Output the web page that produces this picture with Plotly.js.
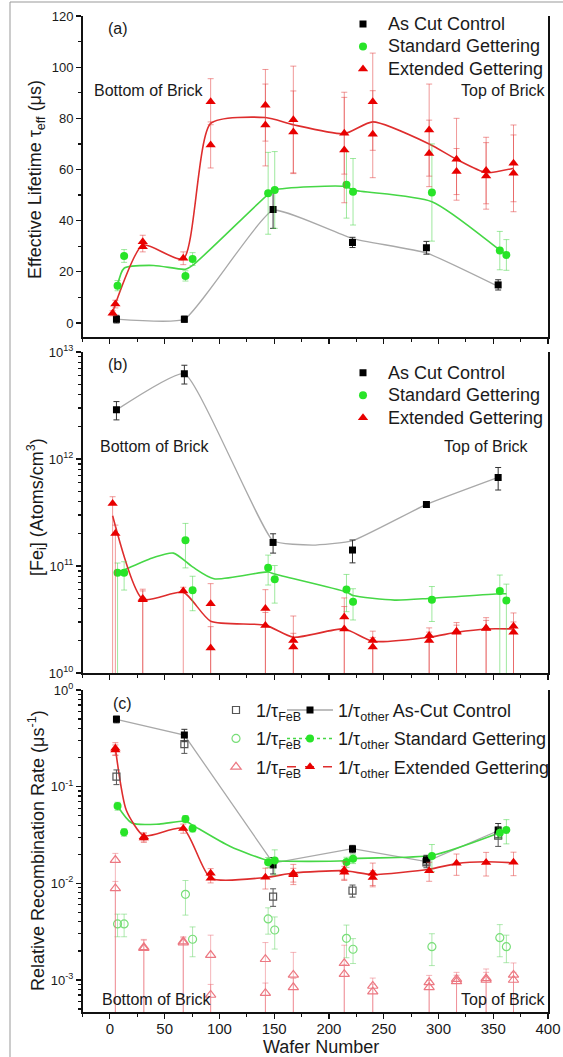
<!DOCTYPE html>
<html><head><meta charset="utf-8">
<script src="https://cdn.plot.ly/plotly-3.0.1.min.js"></script>
<style>html,body{margin:0;padding:0;background:#fff;} #chart{width:563px;height:1057px;}</style>
</head><body><div id="chart"></div>
<script>
// ---------- tick labels ----------
const waferTicks = [0, 50, 100, 150, 200, 250, 300, 350, 400];
const feTickVals = [1e10, 1e11, 1e12, 1e13];
const feTickText = ['10<sup>10</sup>', '10<sup>11</sup>', '10<sup>12</sup>', '10<sup>13</sup>'];
const rateTickVals = [1e-3, 1e-2, 1e-1, 1];
const rateTickText = ['10<sup>-3</sup>', '10<sup>-2</sup>', '10<sup>-1</sup>', '10<sup>0</sup>'];

// ---------- panel (a): effective lifetime (us) ----------
const asCutX = [6, 68, 149, 221.5, 289, 354.5];
const asCutTau = [1.5, 1.5, 44.4, 31.5, 29.4, 14.9];
const asCutTauErr = [1.5, 1.2, 7.4, 2.0, 2.5, 2.0];
const asCutTauFit = [1.5, 1.5, 44.0, 33.0, 27.4, 14.3];

const stdX = [7, 13, 69, 75.5, 144.5, 150.5, 216, 222, 294, 356, 362];
const stdTau = [14.6, 26.2, 18.4, 25.0, 50.7, 52.0, 54.0, 51.3, 51.0, 28.3, 26.6];
const stdTauErr = [2.0, 2.5, 2.0, 2.5, 16, 15, 13, 13, 19, 7.5, 6];
const stdTauFitX = [7, 13, 40, 69, 75.5, 144.5, 150.5, 216, 222, 294, 356, 362];
const stdTauFit = [14.6, 21.4, 22.5, 21.0, 22.5, 50.3, 52.0, 53.3, 52.0, 47.4, 28.5, 26.8];

const extX = [2.5, 5, 30, 30, 67, 92, 92, 142, 142, 167.5, 167.5, 214, 214, 240, 240, 291.5, 291.5, 316.5, 316.5, 343.5, 343.5, 368.5, 368.5];
const extTau = [3.8, 7.4, 31.8, 29.8, 25.3, 86.5, 69.6, 85.1, 77.4, 79.4, 74.7, 74.2, 67.6, 86.5, 73.8, 75.4, 66.3, 64.0, 59.2, 59.6, 57.5, 62.4, 58.5];
const extTauErr = [1.0, 1.5, 2.5, 2.0, 2.5, 9, 9, 14, 16, 21, 16, 16, 20.6, 19, 17, 18, 13, 16, 9, 13, 13, 15, 15];
const extFitX = [2.5, 5, 30, 67, 92, 142, 167.5, 214, 240, 291.5, 316.5, 343.5, 368.5];
const extTauFit = [3.8, 7.4, 30.5, 25.0, 78.0, 80.3, 77.5, 74.0, 78.6, 70.0, 64.0, 58.8, 60.5];

// ---------- panel (b): [Fe_i] (atoms/cm3) ----------
const asCutFe = [2.88e12, 6.27e12, 1.66e11, 1.41e11, 3.76e11, 6.73e11];
const asCutFeErr = [0.56e12, 1.25e12, 0.34e11, 0.34e11, 0.2e11, 1.6e11];
const asCutFeFitX = [6, 68, 149, 185, 221.5, 289, 354.5];
const asCutFeFit = [2.88e12, 6.27e12, 1.72e11, 1.57e11, 1.72e11, 3.76e11, 6.73e11];

const stdFe = [8.66e10, 8.66e10, 1.74e11, 5.92e10, 9.64e10, 7.5e10, 6.04e10, 4.63e10, 4.83e10, 5.83e10, 4.77e10];
const stdFeErrPlus = [2.0e10, 2.3e10, 7.6e10, 2.1e10, 3.0e10, 2.6e10, 2.3e10, 1.5e10, 1.6e10, 2.4e10, 2.0e10];
const stdFeErrMinus = [8.66e10, 2.7e10, 7.8e10, 2.1e10, 3.0e10, 3.0e10, 2.3e10, 1.5e10, 1.8e10, 5.83e10, 4.77e10];
const stdFeFitX = [7, 13, 40, 58, 75.5, 95, 144.5, 150.5, 216, 222, 260, 294, 356, 362];
const stdFeFit = [8.7e10, 9.2e10, 1.2e11, 1.32e11, 9.8e10, 7.6e10, 8.8e10, 8.4e10, 5.7e10, 5.3e10, 4.8e10, 5.0e10, 5.5e10, 5.5e10];

const extFe = [3.84e11, 2.01e11, 4.97e10, 4.85e10, 5.83e10, 4.44e10, 1.71e10, 4.01e10, 2.78e10, 2.01e10, 1.75e10, 3.33e10, 2.58e10, 2.01e10, 1.75e10, 2.24e10, 2.01e10, 2.46e10, 2.40e10, 2.64e10, 2.60e10, 2.74e10, 2.40e10];
const extFeErrPlus = [0.6e11, 0.4e11, 1.1e10, 1.0e10, 0.5e10, 2.4e10, 1.0e10, 2.0e10, 0.9e10, 1.4e10, 0.6e10, 1.7e10, 1.6e10, 0.45e10, 0.4e10, 0.4e10, 0.4e10, 0.5e10, 0.4e10, 0.65e10, 0.5e10, 0.9e10, 0.6e10];
const extFeErrMinus = [3.84e11, 2.01e11, 4.97e10, 4.85e10, 5.83e10, 4.44e10, 1.71e10, 4.01e10, 2.78e10, 2.01e10, 1.75e10, 3.33e10, 2.58e10, 2.01e10, 1.75e10, 2.24e10, 2.01e10, 2.46e10, 2.40e10, 2.64e10, 2.60e10, 2.74e10, 2.40e10];
const extFeFitX = [2.5, 30, 67, 92, 142, 167.5, 214, 240, 291.5, 316.5, 343.5, 368.5];
const extFeFit = [2.95e11, 4.9e10, 5.7e10, 3.05e10, 2.8e10, 2.16e10, 2.58e10, 1.98e10, 2.16e10, 2.4e10, 2.58e10, 2.58e10];

// ---------- panel (c): relative recombination rate (1/us) ----------
const asCutOther = [0.497, 0.342, 0.0155, 0.0227, 0.0175, 0.0356];
const asCutOtherErr = [0.04, 0.05, 0.003, 0.002, 0.002, 0.006];
const asCutFeB = [0.127, 0.276, 0.00728, 0.0084, 0.0165, 0.0311];
const asCutFeBErr = [0.022, 0.055, 0.0015, 0.0012, 0.002, 0.007];
const asCutRateFit = [0.497, 0.342, 0.0162, 0.0229, 0.0168, 0.0350];

const stdOther = [0.063, 0.0337, 0.0463, 0.037, 0.0165, 0.0172, 0.0166, 0.018, 0.0192, 0.0334, 0.0356];
const stdOtherErr = [0.006, 0.003, 0.004, 0.003, 0.002, 0.005, 0.002, 0.002, 0.006, 0.004, 0.01];
const stdFeB = [0.0038, 0.0038, 0.00769, 0.00264, 0.00428, 0.00329, 0.0027, 0.00208, 0.00221, 0.00274, 0.00221];
const stdFeBErr = [0.001, 0.001, 0.003, 0.0009, 0.0013, 0.0012, 0.001, 0.0006, 0.0008, 0.001, 0.0007];
const stdRateFitX = [7, 20, 45, 69, 75.5, 110, 144.5, 150.5, 216, 222, 294, 356, 362];
const stdRateFit = [0.063, 0.042, 0.041, 0.044, 0.040, 0.024, 0.0172, 0.017, 0.0172, 0.018, 0.0195, 0.0335, 0.0356];

const extOtherX = [5, 5, 31, 31, 67, 92, 92, 142, 167.5, 167.5, 214, 214, 240, 240, 291.5, 316.5, 343.5, 368.5];
const extOther = [0.249, 0.24, 0.0304, 0.0295, 0.037, 0.0127, 0.0113, 0.01153, 0.0127, 0.0123, 0.0137, 0.013, 0.0127, 0.0115, 0.0135, 0.0161, 0.0164, 0.0165];
const extOtherErr = [0.036, 0.03, 0.003, 0.003, 0.004, 0.0015, 0.0012, 0.0028, 0.003, 0.002, 0.003, 0.002, 0.0035, 0.002, 0.003, 0.004, 0.0045, 0.0045];
const extFeBX = [5, 5, 31, 31, 67, 67, 92, 92, 142, 142, 167.5, 167.5, 214, 214, 240, 240, 291.5, 291.5, 316.5, 316.5, 343.5, 343.5, 368.5, 368.5];
const extFeB = [0.0174, 0.00887, 0.00213, 0.00218, 0.00243, 0.0025, 0.00181, 0.0007, 0.00164, 0.00073, 0.00113, 0.00084, 0.00149, 0.00115, 0.000867, 0.000757, 0.000946, 0.00084, 0.00102, 0.00097, 0.00104, 0.001, 0.00113, 0.001];
const extFeBErrPlus = [0.003, 0.0016, 0.0005, 0.0004, 0.0003, 0.0003, 0.0011, 0.0002, 0.0008, 0.0002, 0.0008, 0.0002, 0.0008, 0.0003, 0.00018, 0.00015, 0.00017, 0.00015, 0.00018, 0.00015, 0.00026, 0.0002, 0.00037, 0.0002];
const extFeBErrMinus = [0.0174, 0.00887, 0.00213, 0.00218, 0.00243, 0.0025, 0.00181, 0.0007, 0.00164, 0.00073, 0.00113, 0.00084, 0.00149, 0.00115, 0.000867, 0.000757, 0.000946, 0.00084, 0.00102, 0.00097, 0.00104, 0.001, 0.00113, 0.001];
const extRateFitX = [5, 15, 31, 67, 92, 142, 167.5, 214, 240, 291.5, 316.5, 343.5, 368.5];
const extRateFit = [0.25, 0.057, 0.031, 0.037, 0.0113, 0.0115, 0.0128, 0.0135, 0.0123, 0.014, 0.016, 0.0167, 0.0163];

// ---------- styles ----------
const FONT = 'Liberation Sans, Arial, Helvetica, sans-serif';
const C = {
  black: '#000000', grayLine: '#a9a9a9', blackErr: '#333333',
  green: 'rgb(40,228,40)', greenLine: 'rgb(70,215,70)', greenErr: 'rgba(80,215,80,0.55)',
  red: 'rgb(232,0,0)', redLine: 'rgb(222,45,45)', redErr: 'rgba(228,70,70,0.55)',
  openGray: '#555555', openGreen: 'rgb(120,222,120)', openRed: 'rgb(236,120,130)',
  openRedErr: 'rgba(236,110,120,0.5)', openGreenErr: 'rgba(110,215,110,0.55)'
};
const big = s => '<span style="font-size:18px">' + s + '</span>';

function fit(x, y, xa, ya, color, width, smoothing) {
  return {x, y, xaxis: xa, yaxis: ya, type: 'scatter', mode: 'lines', showlegend: false,
    hoverinfo: 'skip', line: {color, width, shape: 'spline', smoothing}};
}
function pts(x, y, xa, ya, sym, color, size, errP, errM, errColor, extra) {
  const t = {x, y, xaxis: xa, yaxis: ya, type: 'scatter', mode: 'markers',
    marker: {symbol: sym, color, size, line: {width: sym.indexOf('open') >= 0 ? 1.2 : 0, color}},
    error_y: {type: 'data', array: errP, arrayminus: errM || errP, symmetric: false,
      color: errColor, thickness: 1, width: 3}};
  return Object.assign(t, extra || {});
}

const traces = [
  // (a)
  fit(asCutX, asCutTauFit, 'x', 'y', C.grayLine, 1.3, 0.4),
  fit(stdTauFitX, stdTauFit, 'x', 'y', C.greenLine, 1.6, 0.7),
  fit(extFitX, extTauFit, 'x', 'y', C.redLine, 1.6, 0.6),
  pts(asCutX, asCutTau, 'x', 'y', 'square', C.black, 7, asCutTauErr, null, C.blackErr, {name: big('As Cut Control'), legend: 'legend'}),
  pts(stdX, stdTau, 'x', 'y', 'circle', C.green, 8, stdTauErr, null, C.greenErr, {name: big('Standard Gettering'), legend: 'legend'}),
  pts(extX, extTau, 'x', 'y', 'triangle-up', C.red, 9, extTauErr, null, C.redErr, {name: big('Extended Gettering'), legend: 'legend'}),
  // (b)
  fit(asCutFeFitX, asCutFeFit, 'x2', 'y2', C.grayLine, 1.3, 0.4),
  fit(stdFeFitX, stdFeFit, 'x2', 'y2', C.greenLine, 1.6, 0.7),
  fit(extFeFitX, extFeFit, 'x2', 'y2', C.redLine, 1.6, 0.6),
  pts(asCutX, asCutFe, 'x2', 'y2', 'square', C.black, 7, asCutFeErr, null, C.blackErr, {name: big('As Cut Control'), legend: 'legend2'}),
  pts(stdX, stdFe, 'x2', 'y2', 'circle', C.green, 8, stdFeErrPlus, stdFeErrMinus, C.greenErr, {name: big('Standard Gettering'), legend: 'legend2'}),
  pts(extX, extFe, 'x2', 'y2', 'triangle-up', C.red, 9, extFeErrPlus, extFeErrMinus, C.redErr, {name: big('Extended Gettering'), legend: 'legend2'}),
  // (c)
  fit(asCutX, asCutRateFit, 'x3', 'y3', C.grayLine, 1.3, 0),
  fit(stdRateFitX, stdRateFit, 'x3', 'y3', C.greenLine, 1.6, 0.7),
  fit(extRateFitX, extRateFit, 'x3', 'y3', C.redLine, 1.6, 0.6),
  pts(asCutX, asCutFeB, 'x3', 'y3', 'square-open', C.openGray, 7, asCutFeBErr, null, C.openGray,
      {name: '1/τ<sub>FeB</sub>', legend: 'legend3', legendgroup: 'g1'}),
  pts(stdX, stdFeB, 'x3', 'y3', 'circle-open', C.openGreen, 8, stdFeBErr, null, C.openGreenErr,
      {name: '1/τ<sub>FeB</sub>', legend: 'legend3', legendgroup: 'g2'}),
  pts(extFeBX, extFeB, 'x3', 'y3', 'triangle-up-open', C.openRed, 9, extFeBErrPlus, extFeBErrMinus, C.openRedErr,
      {name: '1/τ<sub>FeB</sub>', legend: 'legend3', legendgroup: 'g3'}),
  pts(asCutX, asCutOther, 'x3', 'y3', 'square', C.black, 7, asCutOtherErr, null, C.blackErr, {showlegend: false}),
  pts(stdX, stdOther, 'x3', 'y3', 'circle', C.green, 8, stdOtherErr, null, C.greenErr, {showlegend: false}),
  pts(extOtherX, extOther, 'x3', 'y3', 'triangle-up', C.red, 9, extOtherErr, null, C.redErr, {showlegend: false}),
  // legend-only entries for the 1/tau_other series
  {x: [null], y: [null], xaxis: 'x3', yaxis: 'y3', type: 'scatter', mode: 'lines+markers', legend: 'legend4', legendgroup: 'h1',
   name: '1/τ<sub>other</sub> As-Cut Control', line: {color: C.grayLine, width: 1.3}, marker: {symbol: 'square', color: C.black, size: 7}},
  {x: [null], y: [null], xaxis: 'x3', yaxis: 'y3', type: 'scatter', mode: 'lines+markers', legend: 'legend4', legendgroup: 'h2',
   name: '1/τ<sub>other</sub> Standard Gettering', line: {color: C.greenLine, width: 1.5, dash: 'dot'}, marker: {symbol: 'circle', color: C.green, size: 8}},
  {x: [null], y: [null], xaxis: 'x3', yaxis: 'y3', type: 'scatter', mode: 'lines+markers', legend: 'legend4', legendgroup: 'h3',
   name: '1/τ<sub>other</sub> Extended Gettering', line: {color: C.redLine, width: 1.5, dash: 'dash'}, marker: {symbol: 'triangle-up', color: C.red, size: 9}}
];

// ---------- axes ----------
const W = 563, H = 1057;
const px = v => v / W, py = v => 1 - v / H;
const XD = [px(82.5), px(548)];
const axLine = {showline: true, linecolor: '#111', linewidth: 1.5, ticks: 'outside', tickcolor: '#111',
  tickwidth: 1.2, ticklen: 5, showgrid: false, zeroline: false};
const xBase = Object.assign({}, axLine, {range: [-25, 400], domain: XD, tickmode: 'array', tickvals: waferTicks,
  minor: {dtick: 25, tick0: 0, ticks: 'outside', ticklen: 3, tickcolor: '#111', tickwidth: 1}});
function logMinor(lo, hi) {
  const v = [];
  for (let e = lo; e < hi; e++) for (let m = 2; m <= 9; m++) v.push(m * Math.pow(10, e));
  return v;
}
const tickFontY = {family: FONT, size: 13, color: '#1a1a1a'};

const layout = {
  width: W, height: H, margin: {l: 0, r: 0, t: 0, b: 0}, paper_bgcolor: '#fff', plot_bgcolor: 'rgba(0,0,0,0)',
  font: {family: FONT, color: '#1a1a1a'},
  xaxis: Object.assign({}, xBase, {anchor: 'y', showticklabels: false}),
  xaxis2: Object.assign({}, xBase, {anchor: 'y2', showticklabels: false}),
  xaxis3: Object.assign({}, xBase, {anchor: 'y3', showticklabels: true, ticklabelstandoff: -3,
    tickfont: {family: FONT, size: 15, color: '#1a1a1a'}}),
  yaxis: Object.assign({}, axLine, {domain: [py(337), py(16)], range: [-5.47, 120], anchor: 'x', mirror: true,
    tickmode: 'array', tickvals: [0, 20, 40, 60, 80, 100, 120], tickfont: tickFontY,
    minor: {dtick: 10, tick0: 0, ticks: 'outside', ticklen: 3, tickcolor: '#111'}}),
  yaxis2: Object.assign({}, axLine, {type: 'log', domain: [py(673), py(352)], range: [10, 13], anchor: 'x2', mirror: true,
    tickmode: 'array', tickvals: feTickVals, ticktext: feTickText, tickfont: tickFontY,
    minor: {tickmode: 'array', tickvals: logMinor(10, 13), ticks: 'outside', ticklen: 3, tickcolor: '#111'}}),
  yaxis3: Object.assign({}, axLine, {type: 'log', domain: [py(1012), py(690)], range: [-3.331, 0], anchor: 'x3', mirror: true,
    tickmode: 'array', tickvals: rateTickVals, ticktext: rateTickText, tickfont: tickFontY,
    minor: {tickmode: 'array', tickvals: logMinor(-4, 0), ticks: 'outside', ticklen: 3, tickcolor: '#111'}}),
  legend: {x: px(338), y: py(7.75), xanchor: 'left', yanchor: 'top', bgcolor: 'rgba(0,0,0,0)', borderwidth: 0,
    itemwidth: 40, font: {family: FONT, size: 15, color: '#1a1a1a'}},
  legend2: {x: px(338), y: py(356.5), xanchor: 'left', yanchor: 'top', bgcolor: 'rgba(0,0,0,0)', borderwidth: 0,
    itemwidth: 40, font: {family: FONT, size: 15, color: '#1a1a1a'}},
  legend3: {x: px(216), y: py(691.8), xanchor: 'left', yanchor: 'top', bgcolor: 'rgba(0,0,0,0)', borderwidth: 0,
    itemwidth: 30, traceorder: 'grouped', tracegroupgap: 2, font: {family: FONT, size: 18, color: '#1a1a1a'}},
  legend4: {x: px(282), y: py(691.8), xanchor: 'left', yanchor: 'top', bgcolor: 'rgba(0,0,0,0)', borderwidth: 0,
    itemwidth: 46, traceorder: 'grouped', tracegroupgap: 2, font: {family: FONT, size: 18, color: '#1a1a1a'}},
  shapes: [{type: 'rect', xref: 'paper', yref: 'paper', x0: px(10), x1: 1.02, y0: -0.02, y1: py(2),
    line: {color: '#999', width: 1}, layer: 'below'}],
  annotations: []
};

function note(text, x, y, xanchor, size, extra) {
  return Object.assign({text, xref: 'paper', yref: 'paper', x: px(x), y: py(y), xanchor, yanchor: 'middle',
    showarrow: false, font: {family: FONT, size, color: '#1a1a1a'}}, extra || {});
}
layout.annotations.push(
  note('(a)', 118, 28, 'center', 16),
  note('Bottom of Brick', 92, 90, 'left', 16),
  note('Top of Brick', 548, 90, 'right', 16),
  note('(b)', 118, 364, 'center', 16),
  note('Bottom of Brick', 98, 446, 'left', 16),
  note('Top of Brick', 531, 446, 'right', 16),
  note('(c)', 122, 703, 'center', 16),
  note('Bottom of Brick', 100, 999, 'left', 16),
  note('Top of Brick', 548, 999, 'right', 16),
  note('Wafer Number', 321, 1047, 'center', 18),
  note('Effective Lifetime τ<sub>eff</sub> (μs)', 36, 180, 'center', 18, {textangle: -90}),
  note('[Fe<sub>i</sub>] (Atoms/cm<sup>3</sup>)', 36, 507, 'center', 18, {textangle: -90}),
  note('Relative Recombination Rate (μs<sup>-1</sup>)', 36, 851, 'center', 18, {textangle: -90})
);

Plotly.newPlot('chart', traces, layout, {displayModeBar: false, staticPlot: true});
</script></body></html>
